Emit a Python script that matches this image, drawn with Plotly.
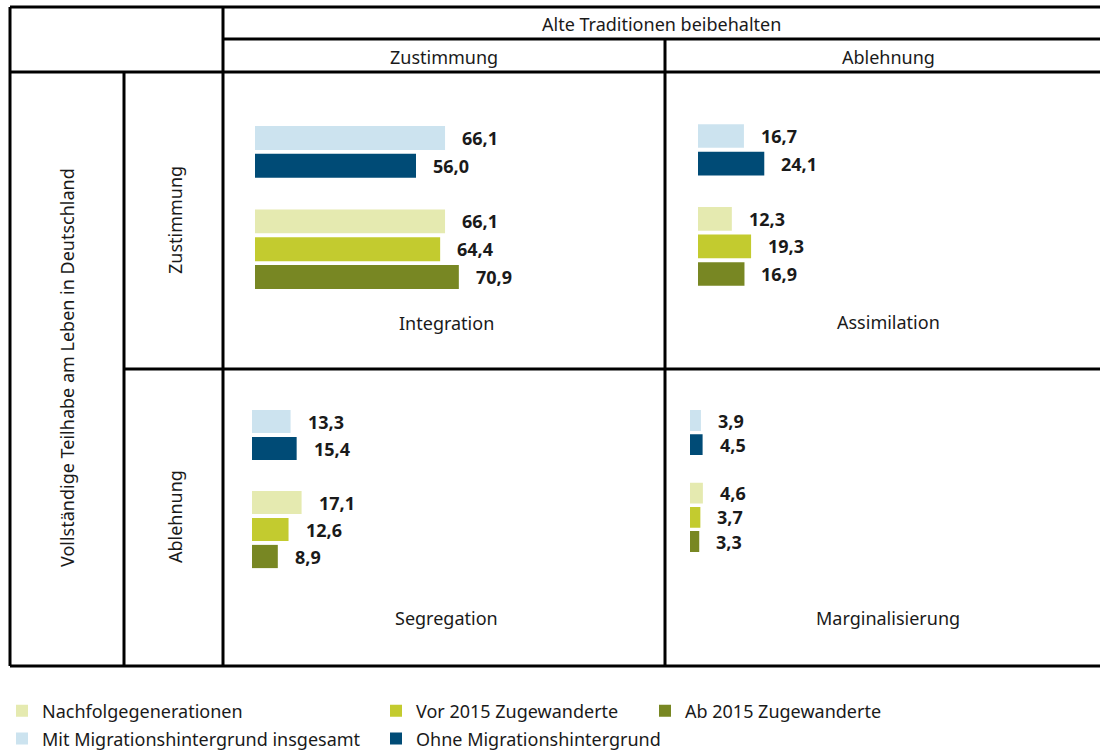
import plotly.graph_objects as go

# ---------------- data ----------------
quadrants = ["Integration", "Assimilation", "Segregation", "Marginalisierung"]
series_names = [
    "Mit Migrationshintergrund insgesamt",
    "Ohne Migrationshintergrund",
    "Nachfolgegenerationen",
    "Vor 2015 Zugewanderte",
    "Ab 2015 Zugewanderte",
]
mit_insgesamt = [66.1, 16.7, 13.3, 3.9]
ohne_migration = [56.0, 24.1, 15.4, 4.5]
nachfolge = [66.1, 12.3, 17.1, 4.6]
vor_2015 = [64.4, 19.3, 12.6, 3.7]
ab_2015 = [70.9, 16.9, 8.9, 3.3]
series_values = [mit_insgesamt, ohne_migration, nachfolge, vor_2015, ab_2015]

col_header = "Alte Traditionen beibehalten"
row_header = "Vollständige Teilhabe am Leben in Deutschland"
answer_labels = ["Zustimmung", "Ablehnung"]

# ---------------- styles ----------------
colors = ["#CCE3EF", "#004B76", "#E5EAB0", "#C3CB2F", "#788723"]
legend_ids = ["legend", "legend2", "legend", "legend2", "legend3"]
legend_ranks = [2, 2, 1, 1, 1]
FONT = "Noto Sans"
TXT = "#1a1a1a"
FS = 18
W, H = 1100, 751


def px(x):
    return x / W


def py(y):
    return 1 - y / H


# quadrant placement in pixels: (left, px per unit, top, bottom)
quad_geom = [
    (255, 2.875, 124.1, 290.9),
    (698, 2.75, 122.2, 287.8),
    (252, 2.90, 408.0, 570.0),
    (690, 2.80, 408.4, 553.6),
]
spacer = " "
cat_order = [series_names[0], series_names[1], spacer] + series_names[2:]

fig = go.Figure()
annotations = []
for qi, qname in enumerate(quadrants):
    sfx = "" if qi == 0 else str(qi + 1)
    for si, sname in enumerate(series_names):
        v = series_values[si][qi]
        fig.add_trace(go.Bar(
            x=[v], y=[sname], orientation="h",
            name=sname, marker=dict(color=colors[si], line=dict(width=0)),
            width=0.86,
            xaxis="x" + sfx, yaxis="y" + sfx,
            showlegend=(qi == 0), legend=legend_ids[si], legendrank=legend_ranks[si],
            legendgroup=sname, hoverinfo="skip",
        ))
        annotations.append(dict(
            x=v, y=sname, xref="x" + sfx, yref="y" + sfx,
            text=f"{v:.1f}".replace(".", ","), showarrow=False,
            xanchor="left", yanchor="middle", xshift=15,
            font=dict(family=FONT, size=FS, color=TXT, weight="bold"),
        ))
    left, scale, top, bottom = quad_geom[qi]
    fig.update_layout(**{
        "xaxis" + sfx: dict(domain=[px(left), px(left + 100 * scale)], range=[0, 100],
                            visible=False, fixedrange=True, anchor="y" + sfx),
        "yaxis" + sfx: dict(domain=[py(bottom), py(top)], type="category",
                            categoryorder="array", categoryarray=cat_order,
                            range=[5.5, -0.5], visible=False, fixedrange=True,
                            anchor="x" + sfx),
    })

# ---------------- table lines ----------------
L = dict(color="black", width=3)
segs = [
    (10, 7, 1100, 7),      # top
    (223, 39, 1100, 39),   # under col header
    (10, 72, 1100, 72),    # under sub headers
    (124, 369, 1100, 369), # middle row divider
    (10, 666, 1100, 666),  # bottom
    (10, 7, 10, 666),      # left
    (124, 72, 124, 666),
    (223, 7, 223, 666),
    (665, 39, 665, 666),
]
shapes = [dict(type="line", xref="paper", yref="paper",
               x0=px(a), y0=py(b), x1=px(c), y1=py(d), line=L) for a, b, c, d in segs]

# ---------------- header texts ----------------
def txt(x, y, s, angle=0, size=FS):
    return dict(x=px(x), y=py(y), xref="paper", yref="paper", text=s, showarrow=False,
                xanchor="center", yanchor="middle", textangle=angle,
                font=dict(family=FONT, size=size, color=TXT))

annotations += [
    txt(661, 24, col_header),
    txt(444, 57, answer_labels[0]),
    txt(888, 57, answer_labels[1]),
    txt(67, 368, row_header, angle=-90),
    txt(175, 220, answer_labels[0], angle=-90),
    txt(175, 517, answer_labels[1], angle=-90),
    txt(446, 323, quadrants[0]),
    txt(888, 322, quadrants[1]),
    txt(446, 618, quadrants[2]),
    txt(888, 618, quadrants[3]),
]

leg_common = dict(orientation="v", yanchor="top", xanchor="left", y=py(692.5),
                  font=dict(family=FONT, size=FS, color=TXT), bgcolor="rgba(0,0,0,0)",
                  tracegroupgap=1.5, traceorder="grouped")

fig.update_layout(
    width=W, height=H, autosize=False,
    margin=dict(l=0, r=0, t=0, b=0, autoexpand=False),
    paper_bgcolor="white", plot_bgcolor="white",
    barmode="overlay",
    shapes=shapes, annotations=annotations,
    legend=dict(x=px(2), **leg_common),
    legend2=dict(x=px(376), **leg_common),
    legend3=dict(x=px(645), **leg_common),
    font=dict(family=FONT, color=TXT),
)

fig.write_html("out.html", config={"displayModeBar": False},
               post_script="document.body.style.margin='0';document.body.style.overflow='hidden';")
